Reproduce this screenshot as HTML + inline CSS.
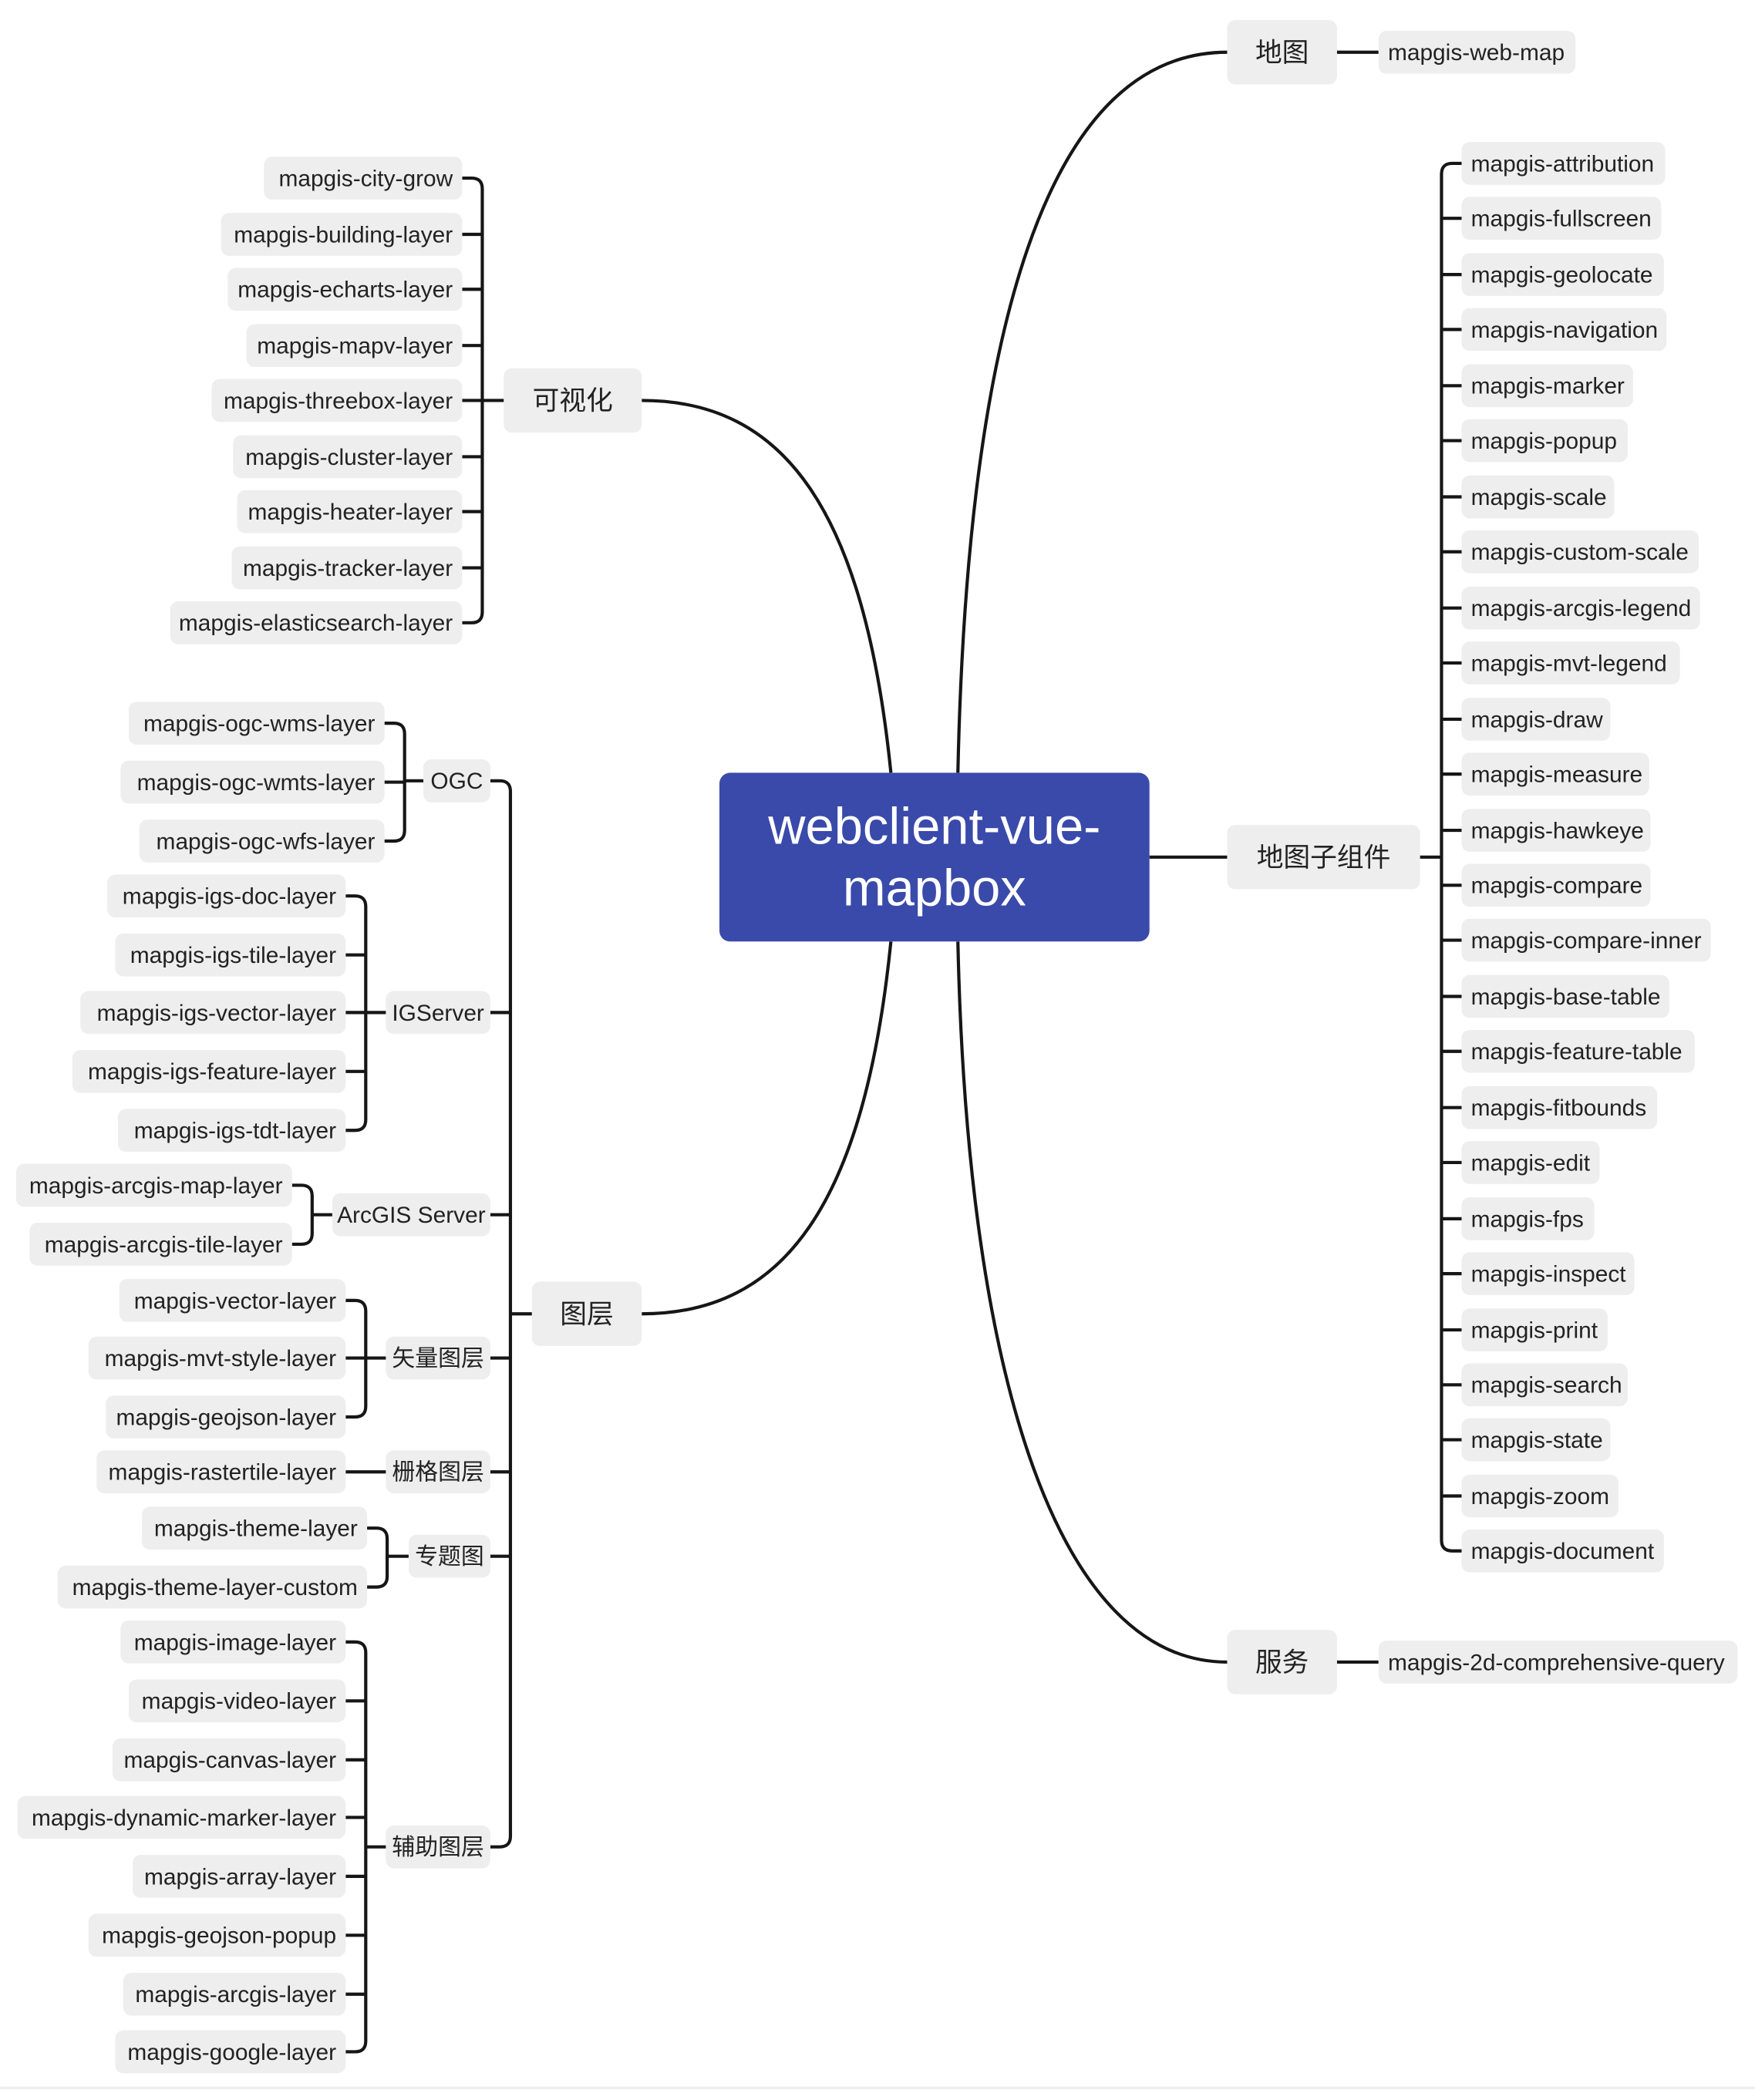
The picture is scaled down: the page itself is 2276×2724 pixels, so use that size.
<!DOCTYPE html>
<html><head><meta charset="utf-8"><style>
html,body{margin:0;padding:0;background:#fff;width:2276px;height:2724px;overflow:hidden}
svg{display:block}
text{font-family:"Liberation Sans","Noto Sans CJK SC",sans-serif;fill:#222}
.n{fill:#eeeeee}
.l{fill:none;stroke:#161616;stroke-width:2.4}
.t{font-size:17.2px}
.b{font-size:20px}
</style></head><body>
<svg width="2276" height="2724" viewBox="0 0 1310 1568" preserveAspectRatio="none" xmlns="http://www.w3.org/2000/svg">
<path class="l" stroke-width="3" d="M715,577 C722,250 780,39 916,39"/>
<path class="l" stroke-width="3" d="M665,577 C645,380 585,299 479,299"/>
<path class="l" stroke-width="3" d="M665,703 C645,900 585,981 479,981"/>
<path class="l" stroke-width="3" d="M715,703 C722,1030 790,1241 916,1241"/>
<path class="l" stroke-width="3" d="M858,640 H916"/>

<rect x="537" y="577" width="321" height="126" rx="8" fill="#3a4aaa"/>
<text x="697.5" y="630" text-anchor="middle" style="font-size:38.5px;fill:#fff">webclient-vue-</text>
<text x="697.5" y="676" text-anchor="middle" style="font-size:38.5px;fill:#fff">mapbox</text>

<rect class="n" x="916" y="15" width="82" height="48" rx="6"/>
<text class="b" x="957" y="46" text-anchor="middle">地图</text>
<path class="l" d="M998,39 H1029"/>
<rect class="n" x="1029" y="23" width="147" height="32" rx="6"/>
<text class="t" x="1036" y="45">mapgis-web-map</text>

<rect class="n" x="916" y="1217" width="82" height="48" rx="6"/>
<text class="b" x="957" y="1248" text-anchor="middle">服务</text>
<path class="l" d="M998,1241 H1029"/>
<rect class="n" x="1029" y="1225" width="268" height="32" rx="6"/>
<text class="t" x="1036" y="1247">mapgis-2d-comprehensive-query</text>

<rect class="n" x="916" y="616" width="144" height="48" rx="6"/>
<text class="b" x="988" y="647" text-anchor="middle">地图子组件</text>
<path class="l" d="M1060,640 H1076"/>
<path class="l" d="M1091,122 H1084 Q1076,122 1076,130 V1150 Q1076,1158 1084,1158 H1091"/>
<path class="l" d="M1076,163H1091M1076,205H1091M1076,246H1091M1076,288H1091M1076,329H1091M1076,371H1091M1076,412H1091M1076,454H1091M1076,495H1091M1076,537H1091M1076,578H1091M1076,620H1091M1076,661H1091M1076,702H1091M1076,744H1091M1076,785H1091M1076,827H1091M1076,868H1091M1076,910H1091M1076,951H1091M1076,993H1091M1076,1034H1091M1076,1075H1091M1076,1117H1091"/>
<g>
<rect class="n" x="1091" y="106" width="152" height="32" rx="6"/><text class="t" x="1098" y="128">mapgis-attribution</text>
<rect class="n" x="1091" y="147" width="149" height="32" rx="6"/><text class="t" x="1098" y="169">mapgis-fullscreen</text>
<rect class="n" x="1091" y="189" width="151" height="32" rx="6"/><text class="t" x="1098" y="211">mapgis-geolocate</text>
<rect class="n" x="1091" y="230" width="153" height="32" rx="6"/><text class="t" x="1098" y="252">mapgis-navigation</text>
<rect class="n" x="1091" y="272" width="128" height="32" rx="6"/><text class="t" x="1098" y="294">mapgis-marker</text>
<rect class="n" x="1091" y="313" width="124" height="32" rx="6"/><text class="t" x="1098" y="335">mapgis-popup</text>
<rect class="n" x="1091" y="355" width="114" height="32" rx="6"/><text class="t" x="1098" y="377">mapgis-scale</text>
<rect class="n" x="1091" y="396" width="177" height="32" rx="6"/><text class="t" x="1098" y="418">mapgis-custom-scale</text>
<rect class="n" x="1091" y="438" width="178" height="32" rx="6"/><text class="t" x="1098" y="460">mapgis-arcgis-legend</text>
<rect class="n" x="1091" y="479" width="163" height="32" rx="6"/><text class="t" x="1098" y="501">mapgis-mvt-legend</text>
<rect class="n" x="1091" y="521" width="111" height="32" rx="6"/><text class="t" x="1098" y="543">mapgis-draw</text>
<rect class="n" x="1091" y="562" width="140" height="32" rx="6"/><text class="t" x="1098" y="584">mapgis-measure</text>
<rect class="n" x="1091" y="604" width="141" height="32" rx="6"/><text class="t" x="1098" y="626">mapgis-hawkeye</text>
<rect class="n" x="1091" y="645" width="141" height="32" rx="6"/><text class="t" x="1098" y="667">mapgis-compare</text>
<rect class="n" x="1091" y="686" width="186" height="32" rx="6"/><text class="t" x="1098" y="708">mapgis-compare-inner</text>
<rect class="n" x="1091" y="728" width="155" height="32" rx="6"/><text class="t" x="1098" y="750">mapgis-base-table</text>
<rect class="n" x="1091" y="769" width="174" height="32" rx="6"/><text class="t" x="1098" y="791">mapgis-feature-table</text>
<rect class="n" x="1091" y="811" width="146" height="32" rx="6"/><text class="t" x="1098" y="833">mapgis-fitbounds</text>
<rect class="n" x="1091" y="852" width="103" height="32" rx="6"/><text class="t" x="1098" y="874">mapgis-edit</text>
<rect class="n" x="1091" y="894" width="99" height="32" rx="6"/><text class="t" x="1098" y="916">mapgis-fps</text>
<rect class="n" x="1091" y="935" width="129" height="32" rx="6"/><text class="t" x="1098" y="957">mapgis-inspect</text>
<rect class="n" x="1091" y="977" width="109" height="32" rx="6"/><text class="t" x="1098" y="999">mapgis-print</text>
<rect class="n" x="1091" y="1018" width="124" height="32" rx="6"/><text class="t" x="1098" y="1040">mapgis-search</text>
<rect class="n" x="1091" y="1059" width="111" height="32" rx="6"/><text class="t" x="1098" y="1081">mapgis-state</text>
<rect class="n" x="1091" y="1101" width="117" height="32" rx="6"/><text class="t" x="1098" y="1123">mapgis-zoom</text>
<rect class="n" x="1091" y="1142" width="151" height="32" rx="6"/><text class="t" x="1098" y="1164">mapgis-document</text>
</g>

<rect class="n" x="376" y="275" width="103" height="48" rx="6"/>
<text class="b" x="427.5" y="306" text-anchor="middle">可视化</text>
<path class="l" d="M376,299 H360"/>
<path class="l" d="M345,133 H352 Q360,133 360,141 V457 Q360,465 352,465 H345"/>
<path class="l" d="M360,175H345M360,216H345M360,258H345M360,299H345M360,341H345M360,382H345M360,424H345"/>
<g>
<rect class="n" x="197" y="117" width="148" height="32" rx="6"/><text class="t" x="338" y="139" text-anchor="end">mapgis-city-grow</text>
<rect class="n" x="165" y="159" width="180" height="32" rx="6"/><text class="t" x="338" y="181" text-anchor="end">mapgis-building-layer</text>
<rect class="n" x="170" y="200" width="175" height="32" rx="6"/><text class="t" x="338" y="222" text-anchor="end">mapgis-echarts-layer</text>
<rect class="n" x="184" y="242" width="161" height="32" rx="6"/><text class="t" x="338" y="264" text-anchor="end">mapgis-mapv-layer</text>
<rect class="n" x="158" y="283" width="187" height="32" rx="6"/><text class="t" x="338" y="305" text-anchor="end">mapgis-threebox-layer</text>
<rect class="n" x="174" y="325" width="171" height="32" rx="6"/><text class="t" x="338" y="347" text-anchor="end">mapgis-cluster-layer</text>
<rect class="n" x="177" y="366" width="168" height="32" rx="6"/><text class="t" x="338" y="388" text-anchor="end">mapgis-heater-layer</text>
<rect class="n" x="173" y="408" width="172" height="32" rx="6"/><text class="t" x="338" y="430" text-anchor="end">mapgis-tracker-layer</text>
<rect class="n" x="127" y="449" width="218" height="32" rx="6"/><text class="t" x="338" y="471" text-anchor="end">mapgis-elasticsearch-layer</text>
</g>

<rect class="n" x="397" y="957" width="82" height="48" rx="6"/>
<text class="b" x="438" y="988" text-anchor="middle">图层</text>
<path class="l" d="M397,981 H381"/>
<path class="l" d="M366,583 H373 Q381,583 381,591 V1371 Q381,1379 373,1379 H366"/>
<path class="l" d="M381,756H366M381,907H366M381,1014H366M381,1099H366M381,1162H366"/>

<rect class="n" x="316" y="567" width="50" height="32" rx="6"/><text class="t" x="341" y="589" text-anchor="middle">OGC</text>
<rect class="n" x="288" y="740" width="78" height="32" rx="6"/><text class="t" x="327" y="762" text-anchor="middle">IGServer</text>
<rect class="n" x="248" y="891" width="118" height="32" rx="6"/><text class="t" x="307" y="913" text-anchor="middle">ArcGIS Server</text>
<rect class="n" x="288" y="998" width="78" height="32" rx="6"/><text class="t" x="327" y="1020" text-anchor="middle">矢量图层</text>
<rect class="n" x="288" y="1083" width="78" height="32" rx="6"/><text class="t" x="327" y="1105" text-anchor="middle">栅格图层</text>
<rect class="n" x="305" y="1146" width="61" height="32" rx="6"/><text class="t" x="335.5" y="1168" text-anchor="middle">专题图</text>
<rect class="n" x="288" y="1363" width="78" height="32" rx="6"/><text class="t" x="327" y="1385" text-anchor="middle">辅助图层</text>

<path class="l" d="M316,583 H302"/>
<path class="l" d="M287,540 H294 Q302,540 302,548 V620 Q302,628 294,628 H287 M302,584 H287"/>
<rect class="n" x="96" y="524" width="191" height="32" rx="6"/><text class="t" x="280" y="546" text-anchor="end">mapgis-ogc-wms-layer</text>
<rect class="n" x="90" y="568" width="197" height="32" rx="6"/><text class="t" x="280" y="590" text-anchor="end">mapgis-ogc-wmts-layer</text>
<rect class="n" x="104" y="612" width="183" height="32" rx="6"/><text class="t" x="280" y="634" text-anchor="end">mapgis-ogc-wfs-layer</text>

<path class="l" d="M288,756 H273"/>
<path class="l" d="M258,669 H265 Q273,669 273,677 V836 Q273,844 265,844 H258 M273,713H258 M273,756H258 M273,800H258"/>
<rect class="n" x="80" y="653" width="178" height="32" rx="6"/><text class="t" x="251" y="675" text-anchor="end">mapgis-igs-doc-layer</text>
<rect class="n" x="86" y="697" width="172" height="32" rx="6"/><text class="t" x="251" y="719" text-anchor="end">mapgis-igs-tile-layer</text>
<rect class="n" x="60" y="740" width="198" height="32" rx="6"/><text class="t" x="251" y="762" text-anchor="end">mapgis-igs-vector-layer</text>
<rect class="n" x="54" y="784" width="204" height="32" rx="6"/><text class="t" x="251" y="806" text-anchor="end">mapgis-igs-feature-layer</text>
<rect class="n" x="88" y="828" width="170" height="32" rx="6"/><text class="t" x="251" y="850" text-anchor="end">mapgis-igs-tdt-layer</text>

<path class="l" d="M248,907 H233"/>
<path class="l" d="M218,885 H225 Q233,885 233,893 V921 Q233,929 225,929 H218"/>
<rect class="n" x="12" y="869" width="206" height="32" rx="6"/><text class="t" x="211" y="891" text-anchor="end">mapgis-arcgis-map-layer</text>
<rect class="n" x="22" y="913" width="196" height="32" rx="6"/><text class="t" x="211" y="935" text-anchor="end">mapgis-arcgis-tile-layer</text>

<path class="l" d="M288,1014 H273"/>
<path class="l" d="M258,971 H265 Q273,971 273,979 V1050 Q273,1058 265,1058 H258 M273,1014H258"/>
<rect class="n" x="89" y="955" width="169" height="32" rx="6"/><text class="t" x="251" y="977" text-anchor="end">mapgis-vector-layer</text>
<rect class="n" x="66" y="998" width="192" height="32" rx="6"/><text class="t" x="251" y="1020" text-anchor="end">mapgis-mvt-style-layer</text>
<rect class="n" x="79" y="1042" width="179" height="32" rx="6"/><text class="t" x="251" y="1064" text-anchor="end">mapgis-geojson-layer</text>

<path class="l" d="M288,1099 H258"/>
<rect class="n" x="72" y="1083" width="186" height="32" rx="6"/><text class="t" x="251" y="1105" text-anchor="end">mapgis-rastertile-layer</text>

<path class="l" d="M305,1162 H289"/>
<path class="l" d="M274,1141 H281 Q289,1141 289,1149 V1177 Q289,1185 281,1185 H274"/>
<rect class="n" x="106" y="1125" width="168" height="32" rx="6"/><text class="t" x="267" y="1147" text-anchor="end">mapgis-theme-layer</text>
<rect class="n" x="43" y="1169" width="231" height="32" rx="6"/><text class="t" x="267" y="1191" text-anchor="end">mapgis-theme-layer-custom</text>

<path class="l" d="M288,1379 H273"/>
<path class="l" d="M258,1226 H265 Q273,1226 273,1234 V1524 Q273,1532 265,1532 H258 M273,1270H258 M273,1314H258 M273,1357H258 M273,1401H258 M273,1445H258 M273,1489H258"/>
<rect class="n" x="90" y="1210" width="168" height="32" rx="6"/><text class="t" x="251" y="1232" text-anchor="end">mapgis-image-layer</text>
<rect class="n" x="96" y="1254" width="162" height="32" rx="6"/><text class="t" x="251" y="1276" text-anchor="end">mapgis-video-layer</text>
<rect class="n" x="84" y="1298" width="174" height="32" rx="6"/><text class="t" x="251" y="1320" text-anchor="end">mapgis-canvas-layer</text>
<rect class="n" x="13" y="1341" width="245" height="32" rx="6"/><text class="t" x="251" y="1363" text-anchor="end">mapgis-dynamic-marker-layer</text>
<rect class="n" x="99" y="1385" width="159" height="32" rx="6"/><text class="t" x="251" y="1407" text-anchor="end">mapgis-array-layer</text>
<rect class="n" x="66" y="1429" width="192" height="32" rx="6"/><text class="t" x="251" y="1451" text-anchor="end">mapgis-geojson-popup</text>
<rect class="n" x="92" y="1473" width="166" height="32" rx="6"/><text class="t" x="251" y="1495" text-anchor="end">mapgis-arcgis-layer</text>
<rect class="n" x="86" y="1516" width="172" height="32" rx="6"/><text class="t" x="251" y="1538" text-anchor="end">mapgis-google-layer</text>

<rect x="0" y="1558" width="1310" height="2" fill="#eeeeee"/>
</svg>
</body></html>
